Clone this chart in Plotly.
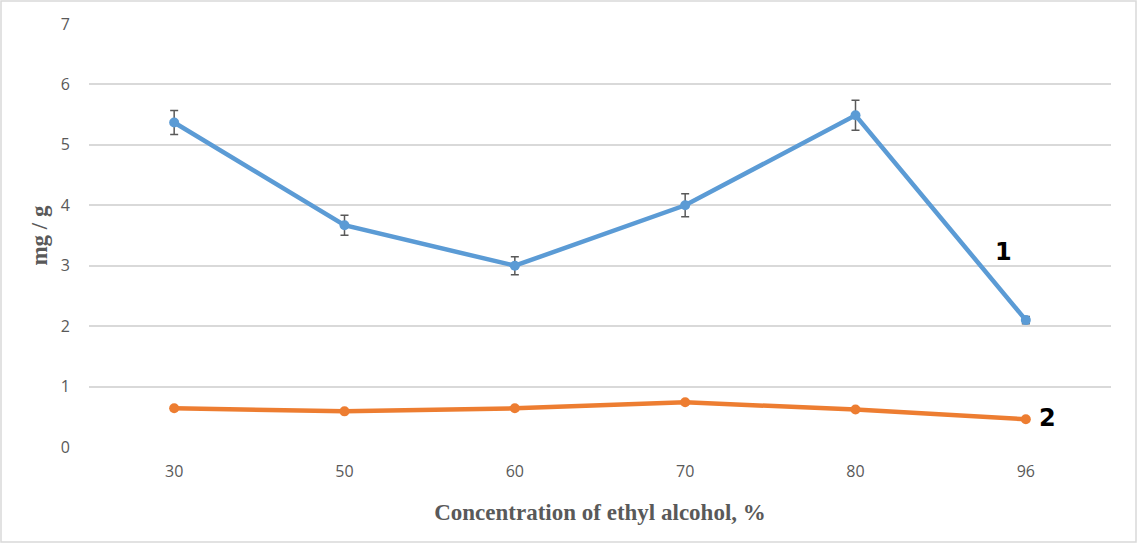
import plotly.graph_objects as go

categories = ["30", "50", "60", "70", "80", "96"]
series1 = [5.37, 3.67, 3.0, 4.0, 5.49, 2.10]
series1_err = [0.2, 0.165, 0.15, 0.19, 0.25, 0.06]
series2 = [0.64, 0.59, 0.64, 0.74, 0.62, 0.46]
y_ticks = [0, 1, 2, 3, 4, 5, 6, 7]

W, H = 1137, 543
ml, mr, mt, mb = 89, 26, 24, 96
pw, ph = W - ml - mr, H - mt - mb

fig = go.Figure()
fig.add_trace(go.Scatter(
    x=categories, y=series1, mode="lines+markers",
    line=dict(color="#5B9BD5", width=4.5),
    marker=dict(color="#5B9BD5", size=10),
    error_y=dict(type="data", array=series1_err, color="#595959", thickness=1.5, width=4),
    showlegend=False,
))
fig.add_trace(go.Scatter(
    x=categories, y=series2, mode="lines+markers",
    line=dict(color="#ED7D31", width=4.5),
    marker=dict(color="#ED7D31", size=10),
    showlegend=False,
))

last = len(categories) - 1
fig.add_annotation(x=last, y=3.22, text="<b>1</b>", showarrow=False,
                   xshift=-22, font=dict(family="DejaVu Sans", size=24, color="black"))
fig.add_annotation(x=last, y=series2[last], text="<b>2</b>", showarrow=False,
                   xshift=22, yshift=1, font=dict(family="DejaVu Sans", size=24, color="black"))

# outer border
fig.add_shape(type="rect", xref="paper", yref="paper",
              x0=(-ml + 1) / pw, x1=(pw + mr - 1) / pw,
              y0=(-mb + 1) / ph, y1=(ph + mt - 1) / ph,
              line=dict(color="#D9D9D9", width=1.5))

fig.update_layout(
    width=W, height=H,
    margin=dict(l=ml, r=mr, t=mt, b=mb),
    paper_bgcolor="white", plot_bgcolor="white",
    font=dict(family="Open Sans", size=16, color="#595959"),
    xaxis=dict(
        type="category", range=[-0.5, 5.5],
        showgrid=False, showline=False, zeroline=False,
        ticks="", tickfont=dict(size=16, color="#595959"),
        ticklabelstandoff=13,
        title=dict(text="<b>Concentration of ethyl alcohol, %</b>",
                   font=dict(family="Liberation Serif", size=23, color="#595959"),
                   standoff=22),
    ),
    yaxis=dict(
        range=[0, 7], tickvals=y_ticks,
        showgrid=True, gridcolor="#D9D9D9", gridwidth=1.5,
        zeroline=False, showline=False, ticks="",
        tickfont=dict(size=16, color="#595959"),
        ticklabelstandoff=18,
        title=dict(text="<b>mg / g</b>",
                   font=dict(family="Liberation Serif", size=23, color="#595959"),
                   standoff=6),
    ),
)
fig.write_html("out.html", config={"displayModeBar": False},
               post_script="document.body.style.margin='0';")
